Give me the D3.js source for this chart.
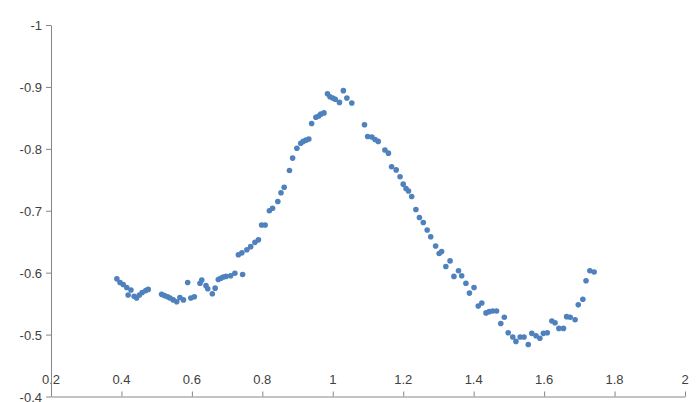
<!DOCTYPE html>
<html>
<head>
<meta charset="utf-8">
<script src="https://cdn.jsdelivr.net/npm/d3@7"></script>
<style>
  html, body { margin: 0; padding: 0; background: #fff; }
  svg { display: block; }
  .lbl { font-family: "Liberation Sans", Arial, sans-serif; font-size: 13px; fill: #404040; }
</style>
</head>
<body>
<svg id="chart" width="697" height="402"></svg>
<script>
// Measured series: x position and value
const xValues = [
  0.387, 0.396, 0.405, 0.415, 0.419, 0.427, 0.436, 0.443, 0.451, 0.459, 0.469, 0.476,
  0.514, 0.522, 0.531, 0.538, 0.547, 0.557, 0.566, 0.576, 0.588, 0.597, 0.607, 0.623,
  0.628, 0.640, 0.645, 0.658, 0.666, 0.675, 0.682, 0.689, 0.697, 0.710, 0.722, 0.732,
  0.744, 0.742, 0.756, 0.767, 0.779, 0.789, 0.798, 0.808, 0.820, 0.829, 0.844, 0.853,
  0.862, 0.877, 0.886, 0.898, 0.909, 0.916, 0.924, 0.932, 0.940, 0.952, 0.960, 0.966,
  0.975, 0.985, 0.992, 1.000, 1.007, 1.019, 1.030, 1.040, 1.054, 1.090, 1.099, 1.111,
  1.120, 1.129, 1.148, 1.158, 1.167, 1.180, 1.191, 1.200, 1.208, 1.215, 1.224, 1.236,
  1.246, 1.257, 1.268, 1.278, 1.292, 1.302, 1.309, 1.321, 1.333, 1.344, 1.357, 1.366,
  1.378, 1.388, 1.401, 1.413, 1.423, 1.435, 1.444, 1.454, 1.465, 1.477, 1.487, 1.498,
  1.511, 1.520, 1.532, 1.543, 1.555, 1.565, 1.577, 1.588, 1.598, 1.609, 1.622, 1.631,
  1.642, 1.655, 1.664, 1.674, 1.688, 1.697, 1.710, 1.719, 1.730, 1.742
];
const yValues = [
  -0.590, -0.584, -0.581, -0.576, -0.564, -0.572, -0.562, -0.559, -0.564, -0.568, -0.571, -0.573,
  -0.565, -0.563, -0.561, -0.559, -0.556, -0.553, -0.560, -0.556, -0.584, -0.559, -0.561, -0.583,
  -0.588, -0.579, -0.574, -0.566, -0.575, -0.589, -0.591, -0.593, -0.594, -0.595, -0.599, -0.629,
  -0.597, -0.632, -0.637, -0.642, -0.649, -0.653, -0.677, -0.677, -0.700, -0.704, -0.715, -0.729,
  -0.738, -0.765, -0.785, -0.801, -0.809, -0.812, -0.814, -0.816, -0.841, -0.851, -0.853, -0.856,
  -0.858, -0.889, -0.884, -0.882, -0.880, -0.875, -0.894, -0.882, -0.874, -0.839, -0.820, -0.819,
  -0.815, -0.812, -0.798, -0.793, -0.771, -0.766, -0.755, -0.743, -0.736, -0.732, -0.723, -0.702,
  -0.689, -0.681, -0.669, -0.658, -0.643, -0.631, -0.634, -0.610, -0.619, -0.594, -0.603, -0.595,
  -0.583, -0.567, -0.576, -0.546, -0.551, -0.535, -0.537, -0.538, -0.538, -0.518, -0.528, -0.503,
  -0.496, -0.489, -0.496, -0.496, -0.484, -0.502, -0.498, -0.494, -0.502, -0.503, -0.522, -0.519,
  -0.510, -0.510, -0.529, -0.528, -0.524, -0.548, -0.557, -0.587, -0.603, -0.601
];

// Axis ticks and their labels
const xTicks = [0.2, 0.4, 0.6, 0.8, 1, 1.2, 1.4, 1.6, 1.8, 2];
const xTickLabels = ["0.2", "0.4", "0.6", "0.8", "1", "1.2", "1.4", "1.6", "1.8", "2"];
const yTicks = [-1, -0.9, -0.8, -0.7, -0.6, -0.5, -0.4];
const yTickLabels = ["-1", "-0.9", "-0.8", "-0.7", "-0.6", "-0.5", "-0.4"];

const svg = d3.select("#chart");
const plot = { left: 51, right: 685, top: 25, bottom: 396.5 };
const axisColor = "#868686";

const x = d3.scaleLinear().domain([0.2, 2]).range([plot.left, plot.right]);
// values run in reverse: -1 at the top, -0.4 at the bottom
const y = d3.scaleLinear().domain([-1, -0.4]).range([plot.top, plot.bottom]);

const points = xValues.map((v, i) => ({ x: v, y: yValues[i] }));

// x-axis labels sit above the bottom axis line
const xLabelG = svg.append("g");
xLabelG.selectAll("text")
  .data(xTicks)
  .join("text")
  .attr("class", "lbl")
  .attr("x", d => x(d))
  .attr("y", plot.bottom - 17.5)
  .attr("text-anchor", "middle")
  .attr("dominant-baseline", "central")
  .text((d, i) => xTickLabels[i]);

// bottom axis: line with ticks pointing up
const xAxis = d3.axisTop(x).tickValues(xTicks).tickSize(5).tickSizeOuter(0).tickFormat("");
const gx = svg.append("g")
  .attr("transform", `translate(0,${plot.bottom})`)
  .call(xAxis);
gx.select(".domain").attr("stroke", axisColor);
gx.selectAll(".tick line").attr("stroke", axisColor);

// left axis: line with ticks pointing out
const yAxis = d3.axisLeft(y).tickValues(yTicks).tickSize(5).tickSizeOuter(0)
  .tickFormat((d, i) => yTickLabels[i]);
const gy = svg.append("g")
  .attr("transform", `translate(${plot.left},0)`)
  .call(yAxis);
gy.select(".domain").attr("stroke", axisColor);
gy.selectAll(".tick line").attr("stroke", axisColor);
gy.selectAll(".tick text")
  .attr("class", "lbl")
  .attr("x", -9)
  .attr("dy", "0.35em")
  .attr("font-family", null)
  .attr("font-size", null)
  .attr("fill", null);

// scatter markers
svg.append("g")
  .selectAll("circle")
  .data(points)
  .join("circle")
  .attr("cx", d => x(d.x))
  .attr("cy", d => y(d.y))
  .attr("r", 2.8)
  .attr("fill", "#4F81BD");
</script>
</body>
</html>
